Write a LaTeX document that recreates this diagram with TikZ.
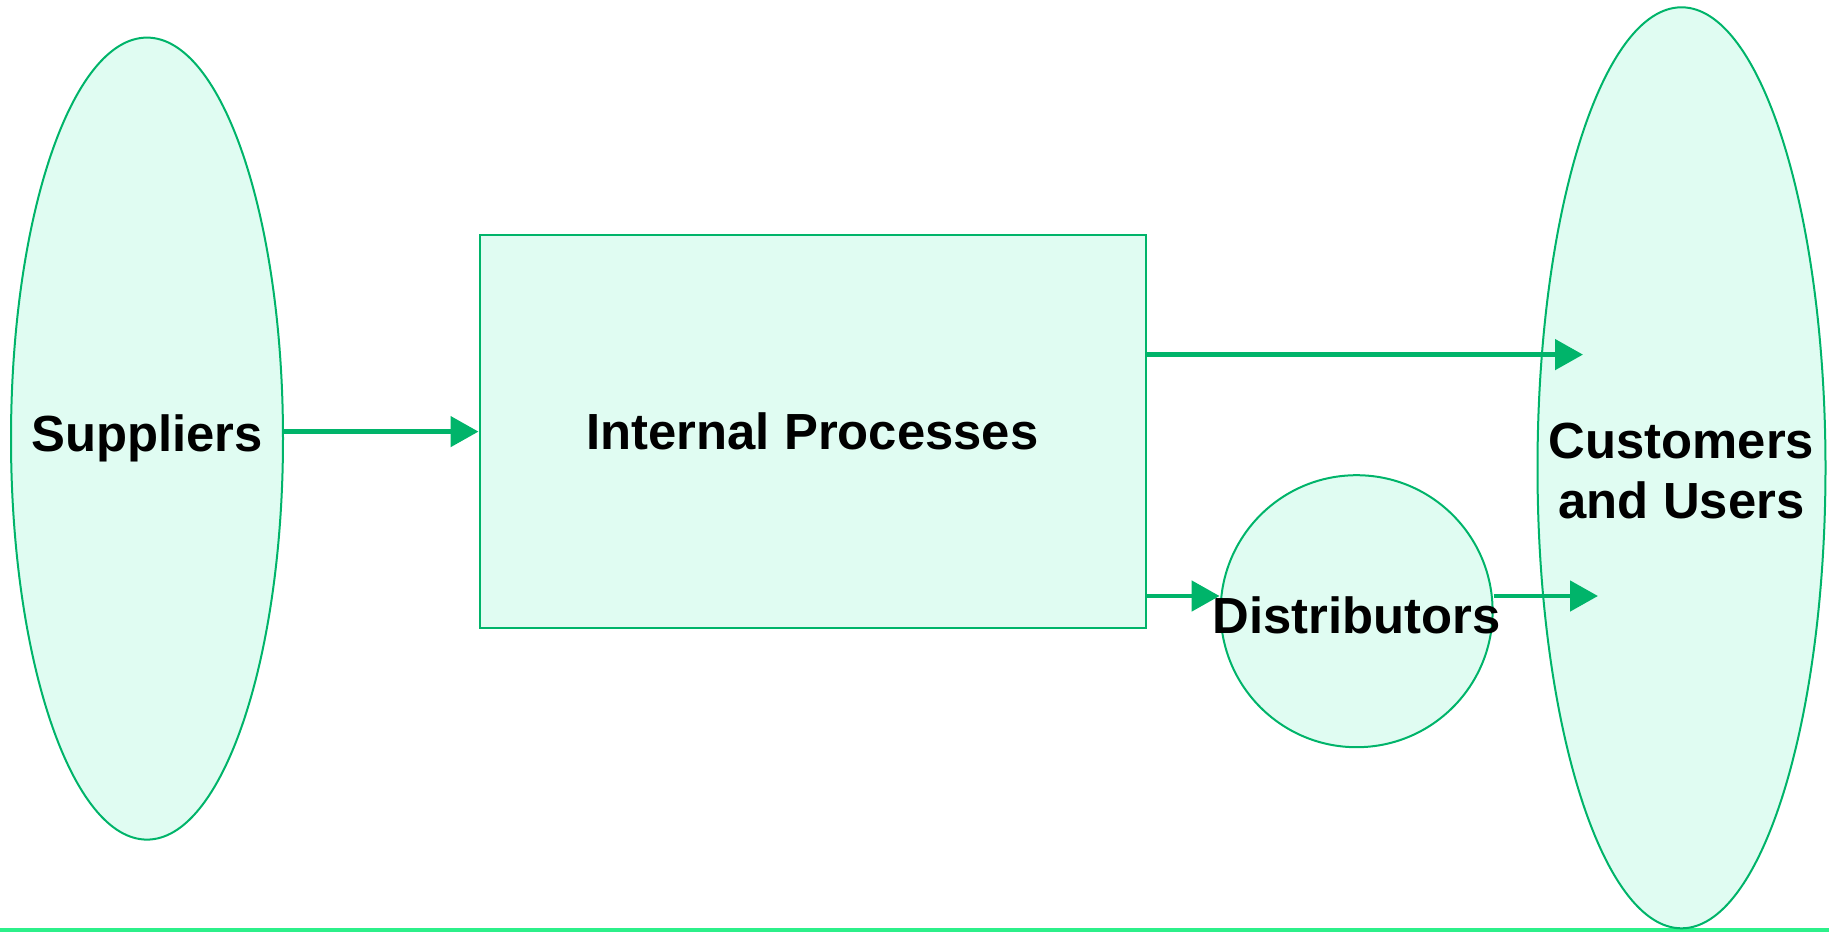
\documentclass[tikz,border=0pt]{standalone}
\usepackage{fontspec}
\setmainfont{Liberation Sans}
\usetikzlibrary{shapes.geometric,arrows.meta}
\definecolor{mint}{RGB}{224,252,242}
\definecolor{edge}{RGB}{0,180,106}
\definecolor{rule}{RGB}{44,240,138}
\tikzset{
  blob/.style={ellipse, draw=edge, fill=mint, line width=2pt, inner sep=0pt},
  boxnode/.style={rectangle, draw=edge, fill=mint, line width=2pt, inner sep=0pt},
  roundnode/.style={circle, draw=edge, fill=mint, line width=2pt, inner sep=0pt},
  lbl/.style={font=\bfseries\fontsize{50.8}{60}\selectfont, align=center},
  flow/.style={draw=edge, line width=4.8pt, -{Triangle[length=28pt,width=30pt]}}
}
\begin{document}
\begin{tikzpicture}[x=1pt,y=-1pt]
\useasboundingbox (0,0) rectangle (1829,932);
% rule along the bottom
\draw[rule, line width=4pt] (0,929.5) -- (1829,929.5);

% shapes
\node[blob, minimum width=272pt, minimum height=802pt] (sup) at (147,438.6) {};
\node[boxnode, minimum width=666pt, minimum height=393pt] (proc) at (812.5,431) {};
\node[roundnode, minimum size=272pt] (dist) at (1356.6,611.2) {};
\node[blob, minimum width=288pt, minimum height=921pt] (cust) at (1681.5,467.8) {};

% labels
\node[lbl] (supl) at (sup) {Suppliers};
\node[lbl] (procl) at (proc) {Internal Processes};
\node[lbl] (distl) at (1356.6,615) {Distributors};
\node[lbl] (custl) at (1681.5,471) {Customers\\and Users};

% arrow ends inside the customer ellipse
\coordinate (topend) at (1583,354.6);
\coordinate (lowend) at (1598,596);

% connectors
\draw[flow] (sup.east |- 0,431.6) -- (proc.west |- 0,431.6);
\draw[flow] (proc.east |- topend) -- (topend);
\draw[flow] (proc.east |- 0,596) -- (dist.west |- 0,596);
\draw[flow] (dist.east |- 0,596) -- (lowend);
\end{tikzpicture}
\end{document}
